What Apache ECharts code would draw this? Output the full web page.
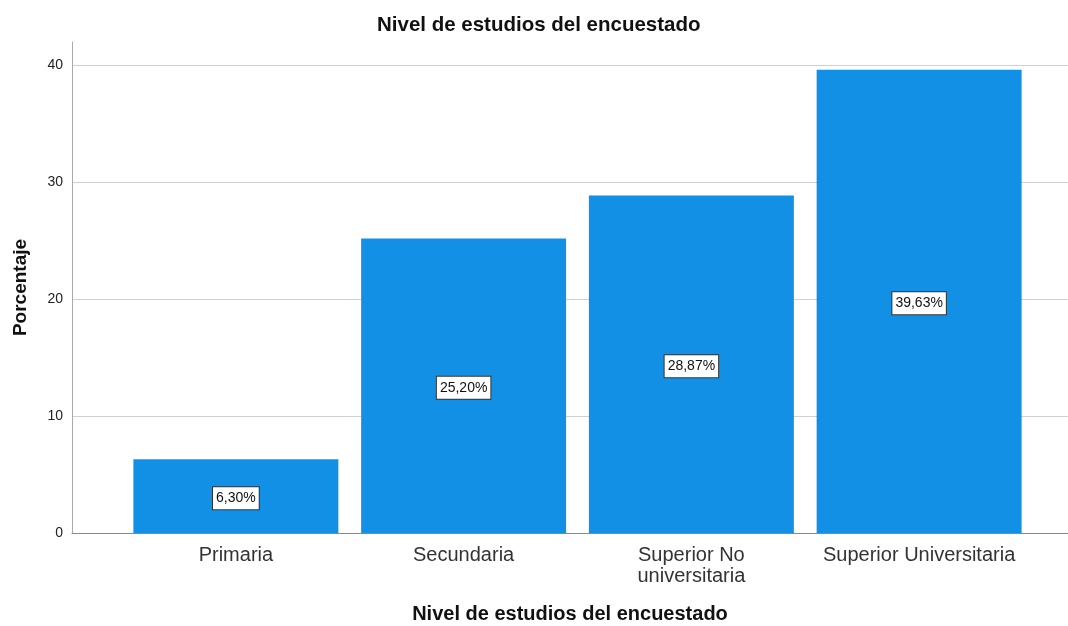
<!DOCTYPE html>
<html>
<head>
<meta charset="utf-8">
<script src="https://cdn.jsdelivr.net/npm/echarts@6/dist/echarts.min.js"></script>
<style>html,body{margin:0;padding:0;background:#fff}#c{width:1068px;height:626px}</style>
</head>
<body>
<div id="c"></div>
<script>
const categories = ['Primaria', 'Secundaria', 'Superior No\nuniversitaria', 'Superior Universitaria'];
const values = [6.30, 25.20, 28.87, 39.63];
const yTicks = [0, 10, 20, 30, 40];
const titleText = 'Nivel de estudios del encuestado';
const xName = 'Nivel de estudios del encuestado';
const yName = 'Porcentaje';

const chart = echarts.init(document.getElementById('c'));
const FONT = 'Liberation Sans, Arial, sans-serif';
const TOP = 42, BOTTOM = 93;
chart.setOption({
  animation: false,
  graphic: [{
    type: 'text', left: 540 - 163, top: 15,
    style: { text: titleText, fontFamily: FONT, fontSize: 20.5, fontWeight: 'bold', fill: '#111' }
  }],
  grid: [
    { left: 72, right: 0, top: TOP, bottom: BOTTOM, outerBoundsMode: 'none' },
    { left: 122, right: 35, top: TOP, bottom: BOTTOM, outerBoundsMode: 'none' }
  ],
  xAxis: [
    { gridIndex: 0, type: 'value', min: 0, max: 1, axisLine: { show: true, onZero: false, lineStyle: { color: '#888', width: 1 } },
      axisTick: { show: false }, axisLabel: { show: false }, splitLine: { show: false },
      name: xName, nameLocation: 'middle', nameGap: 71,
      nameTextStyle: { fontFamily: FONT, fontSize: 20, fontWeight: 'bold', color: '#111' } },
    { gridIndex: 1, type: 'category', data: categories, axisLine: { show: false }, axisTick: { show: false },
      axisLabel: { margin: 12, fontFamily: FONT, fontSize: 20, color: '#333', lineHeight: 21, interval: 0 } }
  ],
  yAxis: [
    { gridIndex: 0, type: 'value', min: 0, max: 42, interval: 10,
      axisLine: { show: true, lineStyle: { color: '#aaa' } }, axisTick: { show: false },
      axisLabel: { fontFamily: FONT, fontSize: 14, color: '#222', margin: 9, showMaxLabel: false,
        formatter: v => yTicks.includes(v) ? String(v) : '' },
      splitLine: { show: true, showMaxLine: false, showMinLine: false, lineStyle: { color: '#d0d0d0', width: 1 } },
      name: yName, nameLocation: 'middle', nameGap: 42, nameRotate: 90,
      nameTextStyle: { fontFamily: FONT, fontSize: 19, fontWeight: 'bold', color: '#111' } },
    { gridIndex: 1, type: 'value', min: 0, max: 42, show: false, splitLine: { show: false } }
  ],
  series: [{
    type: 'bar', xAxisIndex: 1, yAxisIndex: 1, data: values, barWidth: '90%',
    itemStyle: { color: '#1190e6' },
    label: {
      show: true, position: 'inside', offset: [0, 2], formatter: p => p.value.toFixed(2).replace('.', ',') + '%',
      fontFamily: FONT, fontSize: 14, lineHeight: 16, color: '#111', backgroundColor: '#fff',
      borderColor: '#333', borderWidth: 1, padding: [3, 3, 3, 3]
    }
  }]
});
</script>
</body>
</html>
